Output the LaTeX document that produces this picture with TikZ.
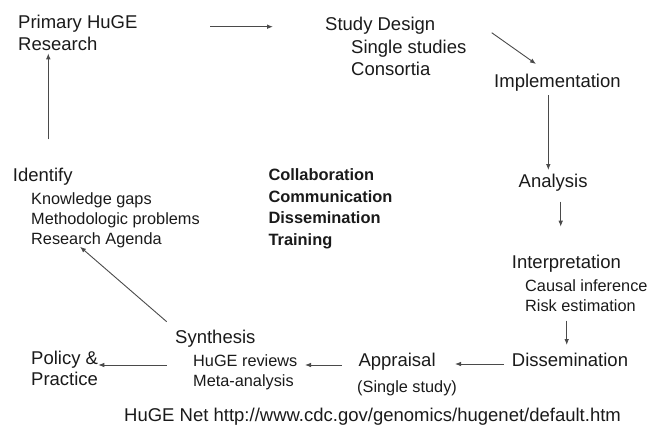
\documentclass[tikz,border=0pt]{standalone}
\usepackage{fontspec}
\setmainfont{Liberation Sans}
\usetikzlibrary{arrows.meta,calc}
\definecolor{ink}{HTML}{1A1A1A}
\definecolor{wire}{HTML}{4A4A4A}
\begin{document}
\begin{tikzpicture}[x=1pt,y=-1pt,
  lab/.style={anchor=base west,inner sep=0pt,text=ink},
  big/.style={lab,font=\fontsize{18.5}{22}\selectfont},
  small/.style={lab,font=\fontsize{16.3}{20}\selectfont},
  heavy/.style={lab,font=\fontsize{16.4}{20}\selectfont\bfseries},
  arr/.style={draw=wire,line width=0.9pt,-{Latex[length=6pt,width=4.6pt]}}]
\useasboundingbox (0,0) rectangle (652,424);

% research cycle, clockwise from the top left
\node[big] (primary1) at (18,28.5) {Primary HuGE};
\node[big] (primary2) at (18,50) {Research};

\node[big] (study1) at (325,30.5) {Study Design};
\node[big] (study2) at (351,53) {Single studies};
\node[big] (study3) at (351,75) {Consortia};

\node[big] (impl) at (494,87.5) {Implementation};
\node[big] (analysis) at (518.5,187) {Analysis};

\node[big] (interp1) at (511.7,268.5) {Interpretation};
\node[small] (interp2) at (525,291.7) {Causal inference};
\node[small] (interp3) at (525,311) {Risk estimation};

\node[big] (dissem) at (511.7,366.7) {Dissemination};

\node[big] (appr1) at (358.3,366.7) {Appraisal};
\node[small] (appr2) at (357,392.7) {(Single study)};

\node[big] (synth1) at (175,343.3) {Synthesis};
\node[small] (synth2) at (193,366.7) {HuGE reviews};
\node[small] (synth3) at (193,386.5) {Meta-analysis};

\node[big] (policy1) at (31,364) {Policy \&};
\node[big] (policy2) at (31,385.7) {Practice};

\node[big] (ident1) at (12.7,181.7) {Identify};
\node[small] (ident2) at (31,204.3) {Knowledge gaps};
\node[small] (ident3) at (31,224) {Methodologic problems};
\node[small] (ident4) at (31,244.3) {Research Agenda};

% cross-cutting activities in the middle
\node[heavy] (collab) at (268.3,180.7) {Collaboration};
\node[heavy] (commun) at (268.3,202.2) {Communication};
\node[heavy] (dissem2) at (268.3,223.6) {Dissemination};
\node[heavy] (train) at (268.3,245) {Training};

\node[big] (url) at (124,421.5) {HuGE Net http://www.cdc.gov/genomics/hugenet/default.htm};

% connectors
\draw[arr] ($(primary1.base west)+(192,-1.8)$) -- ($(study1.base west)+(-52,-3.8)$);
\draw[arr] ($(study1.base west)+(166.7,2.2)$) -- ($(impl.base west)+(42,-23.5)$);
\draw[arr] ($(impl.base west)+(54.3,7.5)$) -- ($(analysis.base west)+(29.8,-17)$);
\draw[arr] ($(analysis.base west)+(42.2,14.7)$) -- ($(interp1.base west)+(49,-41.8)$);
\draw[arr] ($(interp3.base west)+(41.7,9.7)$) -- ($(dissem.base west)+(55,-21.7)$);
\draw[arr] ($(dissem.base west)+(-7.7,-2.7)$) -- ($(appr1.base west)+(96.7,-2.7)$);
\draw[arr] ($(appr1.base west)+(-16.6,-1.7)$) -- ($(synth2.base west)+(112,-1.7)$);
\draw[arr] ($(synth1.base west)+(-8.3,21.7)$) -- ($(policy1.base west)+(67.3,1)$);
\draw[arr] ($(synth1.base west)+(-8.3,-21.6)$) -- ($(ident4.base west)+(49,2.4)$);
\draw[arr] ($(ident1.base west)+(35.6,-42.4)$) -- ($(primary2.base west)+(30.3,3.3)$);
\end{tikzpicture}
\end{document}
